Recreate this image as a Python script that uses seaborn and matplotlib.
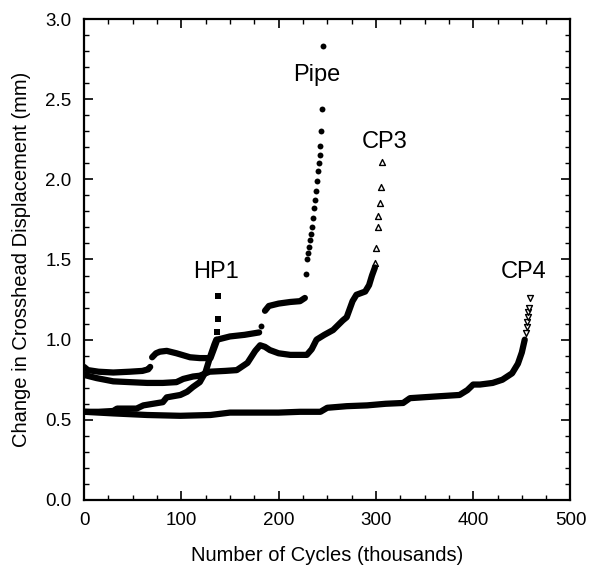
import numpy as np
import matplotlib
matplotlib.use("Agg")
import matplotlib.pyplot as plt
from matplotlib.ticker import MultipleLocator
import seaborn as sns

# --- data (cycles in thousands, displacement in mm) ---
# HP1: dense part + sparse square markers at failure
hp1_x = [0, 15, 30, 34, 54, 61, 81, 85, 99, 106, 112, 119, 125, 130, 134, 136]
hp1_y = [0.55, 0.55, 0.555, 0.57, 0.57, 0.59, 0.61, 0.64, 0.655, 0.675, 0.705, 0.735, 0.80, 0.90, 0.97, 1.00]
hp1_tail_x = [137, 138, 138]
hp1_tail_y = [1.05, 1.13, 1.27]

# Pipe: three dense segments + sparse circles
pipe_x1 = [0, 4, 15, 30, 47, 60, 66, 68]
pipe_y1 = [0.83, 0.81, 0.80, 0.795, 0.80, 0.805, 0.815, 0.83]
pipe_x2 = [70, 74, 78, 85, 95, 109, 119, 130, 134, 137, 150, 165, 180]
pipe_y2 = [0.89, 0.915, 0.925, 0.93, 0.915, 0.89, 0.885, 0.885, 0.95, 1.00, 1.02, 1.03, 1.045]
pipe_x3 = [186, 190, 200, 212, 222, 227]
pipe_y3 = [1.18, 1.21, 1.225, 1.235, 1.24, 1.26]
pipe_tail_x = [182, 228.2, 229.5, 229.9, 231.3, 232.3, 233.3, 234.7, 235.7, 236.8, 237.8,
               238.8, 239.5, 240.5, 241.5, 242.2, 242.9, 243.9, 244.9, 246]
pipe_tail_y = [1.085, 1.41, 1.50, 1.54, 1.58, 1.62, 1.66, 1.70, 1.76, 1.82, 1.87,
               1.93, 1.99, 2.05, 2.10, 2.15, 2.21, 2.30, 2.44, 2.83]

# CP3: dense part + open up-triangles
cp3_x = [0, 13, 30, 47, 65, 81, 95, 102, 112, 119, 129, 145, 157, 168, 176, 181, 186, 191,
         200, 212, 229, 234, 239, 247, 256, 266, 270, 276, 280, 289, 293, 296, 299]
cp3_y = [0.78, 0.76, 0.74, 0.735, 0.73, 0.73, 0.735, 0.755, 0.77, 0.775, 0.80, 0.805, 0.81,
         0.855, 0.93, 0.965, 0.955, 0.935, 0.915, 0.905, 0.905, 0.94, 1.00, 1.03, 1.06, 1.12,
         1.14, 1.24, 1.28, 1.30, 1.34, 1.40, 1.45]
cp3_tail_x = [299.4, 300.4, 301.8, 302.5, 303.9, 305.2, 306.3]
cp3_tail_y = [1.48, 1.57, 1.70, 1.77, 1.85, 1.95, 2.11]

# CP4: dense part + open down-triangles
cp4_x = [0, 30, 65, 99, 130, 150, 180, 200, 222, 243, 250, 270, 291, 310, 328, 335, 360,
         386, 394, 400, 407, 420, 430, 440, 446, 450, 453]
cp4_y = [0.55, 0.54, 0.53, 0.525, 0.53, 0.545, 0.545, 0.545, 0.55, 0.55, 0.575, 0.585, 0.59,
         0.60, 0.605, 0.635, 0.645, 0.655, 0.685, 0.72, 0.72, 0.73, 0.75, 0.79, 0.85, 0.92, 1.00]
cp4_tail_x = [454, 455, 455.5, 456, 456.5, 457, 458]
cp4_tail_y = [1.04, 1.08, 1.11, 1.14, 1.17, 1.20, 1.26]

labels = ["HP1", "Pipe", "CP3", "CP4"]
label_x = [136, 239.5, 309, 452]
label_y = [1.42, 2.65, 2.23, 1.42]

sns.set_style("ticks")
plt.rcParams["font.family"] = ["Liberation Sans", "DejaVu Sans"]
plt.rcParams.update({"text.color": "black", "axes.labelcolor": "black",
                     "xtick.color": "black", "ytick.color": "black"})

fig = plt.figure(figsize=(5.93, 5.76), dpi=100)
ax = fig.add_axes([0.1417, 0.132, 0.8203, 0.835])

lw = 4.5
for xs, ys in [(hp1_x, hp1_y), (pipe_x1, pipe_y1), (pipe_x2, pipe_y2), (pipe_x3, pipe_y3),
               (cp3_x, cp3_y), (cp4_x, cp4_y)]:
    sns.lineplot(x=xs, y=ys, ax=ax, color="black", lw=lw, sort=False, estimator=None)

sns.scatterplot(x=hp1_tail_x, y=hp1_tail_y, ax=ax, marker="s", s=14, color="black", linewidth=0)
sns.scatterplot(x=pipe_tail_x, y=pipe_tail_y, ax=ax, marker="o", s=18, color="black", linewidth=0)
sns.scatterplot(x=cp3_tail_x, y=cp3_tail_y, ax=ax, marker="^", s=18, facecolor="white",
                edgecolor="black", linewidth=1.0)
sns.scatterplot(x=cp4_tail_x, y=cp4_tail_y, ax=ax, marker="v", s=18, facecolor="white",
                edgecolor="black", linewidth=1.0)

for t, tx, ty in zip(labels, label_x, label_y):
    ax.text(tx, ty, t, ha="center", va="center", fontsize=17)

ax.set_xlim(0, 500)
ax.set_ylim(0, 3.0)
ax.xaxis.set_major_locator(MultipleLocator(100))
ax.xaxis.set_minor_locator(MultipleLocator(25))
ax.yaxis.set_major_locator(MultipleLocator(0.5))
ax.yaxis.set_minor_locator(MultipleLocator(0.1))
ax.yaxis.set_major_formatter(plt.FormatStrFormatter("%.1f"))
ax.tick_params(which="both", direction="in", top=True, right=True, labelsize=13.5, pad=9)
ax.tick_params(which="major", length=6.5, width=1.2)
ax.tick_params(which="minor", length=3.5, width=1.0)
for sp in ax.spines.values():
    sp.set_linewidth(1.6)
    sp.set_color("black")

ax.set_xlabel("Number of Cycles (thousands)", fontsize=14.5, labelpad=12)
ax.set_ylabel("Change in Crosshead Displacement (mm)", fontsize=14.5, labelpad=10)

fig.savefig("out.png", dpi=100)
